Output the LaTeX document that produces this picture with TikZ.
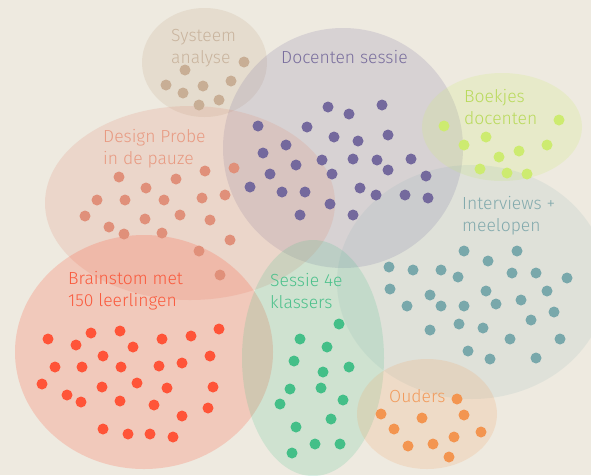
\documentclass[tikz,border=0pt]{standalone}
\usepackage{fontspec}
\setmainfont{Fira Sans Light}
\definecolor{bg}{HTML}{EEEAE0}
\definecolor{ctan}{HTML}{C8AE95}
\definecolor{ttan}{HTML}{C9B49E}
\definecolor{cpur}{HTML}{74699D}
\definecolor{tpur}{HTML}{7A6F9E}
\definecolor{clime}{HTML}{CDEB70}
\definecolor{tlime}{HTML}{B9DA5C}
\definecolor{csal}{HTML}{E0907A}
\definecolor{tsal}{HTML}{E89A82}
\definecolor{cteal}{HTML}{79A8AB}
\definecolor{tteal}{HTML}{83AAAD}
\definecolor{cred}{HTML}{FF5438}
\definecolor{tred}{HTML}{FA5A3D}
\definecolor{cgrn}{HTML}{44BF88}
\definecolor{tgrn}{HTML}{4DC18C}
\definecolor{corg}{HTML}{F39550}
\definecolor{torg}{HTML}{F29B5C}
\newcommand{\twolines}[2]{\begin{tabular}[t]{@{}l@{}}#1\\#2\end{tabular}}
\tikzset{
  lbl/.style={anchor=base west, inner sep=0pt, font=\fontsize{17.5}{22}\selectfont},
  blob/.style={fill=#1},
}
\begin{document}
\begin{tikzpicture}[x=1pt,y=-1pt]
\useasboundingbox (0,0) rectangle (591,475);
\fill[bg] (0,0) rectangle (591,475);
\clip (0,0) rectangle (591,475);
% regions
\fill[ctan, fill opacity=.23] (204.5,62.5) ellipse[x radius=62.5pt, y radius=54.5pt];
\fill[cpur, fill opacity=.18] (343,148) ellipse[x radius=120pt, y radius=120pt];
\fill[clime, fill opacity=.2] (502,127) ellipse[x radius=80pt, y radius=54pt];
\fill[csal, fill opacity=.21] (190,203) ellipse[x radius=145pt, y radius=97pt];
\fill[cteal, fill opacity=.12] (472,282) ellipse[x radius=135pt, y radius=117pt];
\fill[cred, fill opacity=.22] (144,352) ellipse[x radius=129pt, y radius=117pt];
\fill[cgrn, fill opacity=.18] (313,358) ellipse[x radius=71pt, y radius=118pt];
\fill[corg, fill opacity=.17] (427,414) ellipse[x radius=70pt, y radius=55pt];
% dots
\foreach \p in {(244,62),(185,70),(166,85),(203,86),(231,81),(183,93),(219,100),(199,105)}
  \fill[ctan] \p circle[radius=5.5pt];
\foreach \p in {(328,107),(349,114),(382,105),(258,126),(307,127),(334,137),(358,141),(388,135),(286,145),(263,153),(322,160),(353,159),(377,160),(411,159),(296,165),(270,174),(332,174),(388,170),(426,176),(250,187),(282,192),(305,192),(360,188),(376,195),(405,195),(428,198),(330,204),(300,215),(353,215)}
  \fill[cpur] \p circle[radius=5.5pt];
\foreach \p in {(444,126),(559,120),(486,137),(464,145),(519,151),(547,145),(499,157),(480,169),(507,173),(527,174)}
  \fill[clime] \p circle[radius=5.5pt];
\foreach \p in {(119,177),(176,179),(146,188),(97,200),(125,200),(164,200),(85,216),(145,219),(180,215),(109,227),(124,234),(162,233),(205,171),(234,168),(202,198),(225,195),(210,220),(230,240),(199,251),(220,275)}
  \fill[csal] \p circle[radius=5.5pt];
\foreach \p in {(464,251),(517,251),(488,261),(389,267),(413,270),(441,270),(458,277),(512,273),(536,273),(567,278),(390,289),(430,295),(486,291),(547,291),(407,306),(441,306),(464,306),(496,304),(521,300),(554,312),(531,320),(430,330),(459,324),(483,328),(510,339),(560,339),(468,351),(490,359),(536,358)}
  \fill[cteal] \p circle[radius=5.5pt];
\foreach \p in {(48,339),(76,345),(91,333),(120,331),(133,347),(162,339),(191,336),(103,356),(55,367),(82,367),(121,367),(159,366),(182,363),(42,384),(102,387),(137,383),(167,388),(67,395),(81,402),(120,401),(154,405),(182,416),(103,429),(128,434),(150,434),(173,437),(219,329),(210,356),(213,387),(208,408)}
  \fill[cred] \p circle[radius=5.5pt];
\foreach \p in {(339,324),(300,339),(327,347),(294,361),(323,372),(349,367),(290,389),(321,388),(343,400),(280,404),(331,419),(296,427),(315,444),(340,444),(292,453)}
  \fill[cgrn] \p circle[radius=5.5pt];
\foreach \p in {(381,414),(394,429),(422,418),(457,399),(464,415),(481,432),(454,437),(408,446),(433,444),(449,457)}
  \fill[corg] \p circle[radius=5.5pt];
% labels
\node[lbl, text=ttan] (sys) at (171,41) {\twolines{Systeem}{analyse}};
\node[lbl, text=tpur] (doc) at (281,63) {Docenten sessie};
\node[lbl, text=tlime] (boek) at (464,102) {\twolines{Boekjes}{docenten}};
\node[lbl, text=tsal] (dp) at (103,142) {\twolines{Design Probe}{in de pauze}};
\node[lbl, text=tteal] (int) at (462,209) {\twolines{Interviews +}{meelopen}};
\node[lbl, text=tred] (brain) at (68,284) {\twolines{Brainstom met}{150 leerlingen}};
\node[lbl, text=tgrn] (ses) at (270,286) {\twolines{Sessie 4e}{klassers}};
\node[lbl, text=torg] (oud) at (389,402) {Ouders};
\end{tikzpicture}
\end{document}
